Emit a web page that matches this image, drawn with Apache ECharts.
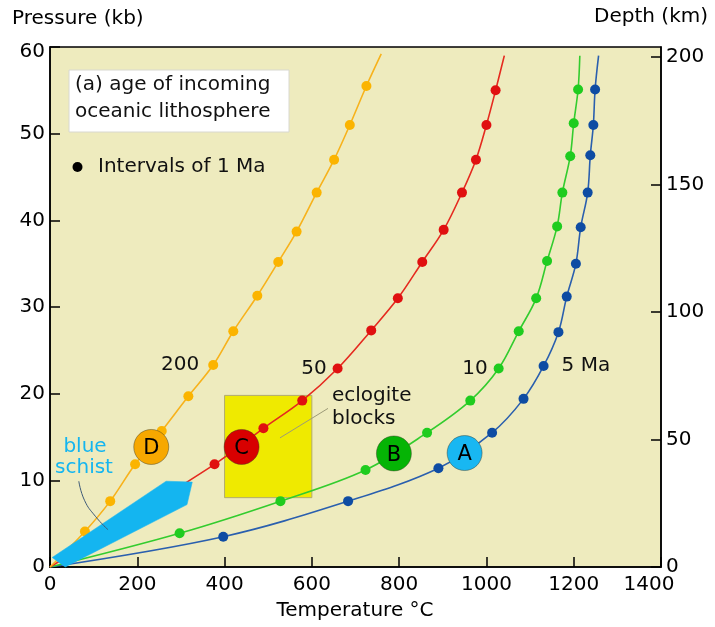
<!DOCTYPE html>
<html>
<head>
<meta charset="utf-8">
<script src="https://cdn.jsdelivr.net/npm/echarts/dist/echarts.min.js"></script>
<style>
  html, body { margin: 0; padding: 0; background: #ffffff; }
  #chart { width: 715px; height: 627px; }
</style>
</head>
<body>
<div id="chart"></div>
<script>
// P-T paths at the top of a subducting slab for different ages of the
// incoming oceanic lithosphere. Dots mark 1 Ma steps along each path.

// Axis ticks
const tempTicks = [0, 200, 400, 600, 800, 1000, 1200, 1400];     // °C
const pressureTicks = [0, 10, 20, 30, 40, 50, 60];               // kb
const depthTicks = [0, 50, 100, 150, 200];                       // km
const depthMax = 204;                                            // km at 60 kb

// 5 Ma lithosphere
const temp5 = [397, 683, 890, 1013, 1085, 1131, 1165, 1184, 1205, 1216, 1232, 1238, 1245, 1249];
const press5 = [3.5, 7.6, 11.4, 15.5, 19.4, 23.2, 27.1, 31.2, 35.0, 39.2, 43.2, 47.5, 51.0, 55.1];
const end5 = [1257, 59.0];

// 10 Ma lithosphere
const temp10 = [297, 528, 723, 864, 963, 1028, 1074, 1114, 1139, 1162, 1174, 1192, 1200, 1210];
const press10 = [3.9, 7.6, 11.2, 15.5, 19.2, 22.9, 27.2, 31.0, 35.3, 39.3, 43.2, 47.4, 51.2, 55.1];
const end10 = [1214, 59.0];

// 50 Ma lithosphere
const temp50 = [377, 489, 578, 659, 736, 797, 853, 902, 944, 976, 1000, 1021];
const press50 = [11.85, 16.0, 19.2, 22.9, 27.3, 31.0, 35.2, 38.9, 43.2, 47.0, 51.0, 55.0];
const end50 = [1041, 59.0];

// 200 Ma lithosphere
const temp200 = [80, 138, 195, 256, 317, 374, 420, 475, 523, 565, 611, 651, 687, 725];
const press200 = [4.1, 7.6, 11.85, 15.7, 19.7, 23.3, 27.2, 31.3, 35.2, 38.7, 43.2, 47.0, 51.0, 55.5];
const end200 = [759, 59.2];

const pathStart = [0, 0];

// Lettered P-T conditions
const regionLabels = ['A', 'B', 'C', 'D'];
const regionTemp = [950, 788, 439, 232];
const regionPress = [13.15, 13.1, 13.85, 13.85];

// Blueschist field outline
const schistTemp = [5, 35, 314, 326, 266];
const schistPress = [1.1, 0, 7.2, 9.8, 9.9];

// Eclogite blocks box
const eclogiteTemp = [400, 600];
const eclogitePress = [8, 19.8];

// Leader lines from the annotations
const schistLeaderTemp = [66, 79, 104, 133];
const schistLeaderPress = [9.9, 7.7, 5.85, 4.3];
const eclogiteLeaderTemp = [527, 637];
const eclogiteLeaderPress = [14.9, 18.3];

const FONT = 'DejaVu Sans';
const chart = echarts.init(document.getElementById('chart'), null, { renderer: 'canvas' });

function pairs(T, P) {
  return T.map((t, i) => [t, P[i]]);
}

function pathSeries(T, P, end, lineColor, dotColor, labelIndex, labelText, labelPos, labelDist) {
  const line = {
    type: 'line',
    data: [pathStart].concat(pairs(T, P), [end]),
    smooth: 0.35,
    showSymbol: false,
    silent: true,
    lineStyle: { color: lineColor, width: 1.6, opacity: 1 },
    z: 3
  };
  const dots = {
    type: 'scatter',
    symbol: 'circle',
    symbolSize: 10,
    silent: true,
    itemStyle: { color: dotColor, opacity: 1 },
    data: pairs(T, P).map((p, i) => i === labelIndex ? {
      value: p,
      label: {
        show: true,
        formatter: labelText,
        position: labelPos,
        distance: labelDist,
        color: '#111',
        fontFamily: FONT,
        fontSize: 20
      }
    } : p),
    z: 4
  };
  return [line, dots];
}

const series = [];

// eclogite box (beneath the paths)
series.push({
  type: 'custom',
  data: [[eclogiteTemp[0], eclogitePress[0], eclogiteTemp[1], eclogitePress[1]]],
  encode: { x: [0, 2], y: [1, 3] },
  renderItem: function (params, api) {
    const a = api.coord([api.value(0), api.value(3)]);
    const b = api.coord([api.value(2), api.value(1)]);
    return {
      type: 'rect',
      shape: { x: a[0], y: a[1], width: b[0] - a[0], height: b[1] - a[1] },
      style: { fill: '#EFEA00', stroke: '#B0AA70', lineWidth: 1 }
    };
  },
  silent: true,
  z: 2
});

series.push(...pathSeries(temp5, press5, end5, '#2A5FAE', '#0E4CA3', 5, '5 Ma', 'right', 13));
series.push(...pathSeries(temp10, press10, end10, '#33CC2E', '#1FCC1F', 5, '10', 'left', 6));
series.push(...pathSeries(temp50, press50, end50, '#E52A1F', '#E01010', 3, '50', 'left', 6));
series.push(...pathSeries(temp200, press200, end200, '#F7B21C', '#FBB400', 5, '200', 'left', 9));

// blueschist field
series.push({
  type: 'custom',
  data: pairs(schistTemp, schistPress),
  renderItem: function (params, api) {
    if (params.dataIndex !== 0) return null;
    const pts = schistTemp.map((t, i) => api.coord([t, schistPress[i]]));
    return {
      type: 'polygon',
      shape: { points: pts },
      style: { fill: '#14B5F0', stroke: '#14B5F0', lineWidth: 0.5 }
    };
  },
  silent: true,
  z: 5
});

// leader lines
series.push({
  type: 'line',
  data: pairs(schistLeaderTemp, schistLeaderPress),
  smooth: 0.5,
  showSymbol: false,
  silent: true,
  lineStyle: { color: '#3F5B78', width: 1 },
  z: 6
});
series.push({
  type: 'line',
  data: pairs(eclogiteLeaderTemp, eclogiteLeaderPress),
  showSymbol: false,
  silent: true,
  lineStyle: { color: '#9C9A78', width: 1 },
  z: 6
});

// lettered circles
const regionFill = ['#18B7F2', '#05B405', '#D80000', '#F7A800'];
series.push({
  type: 'scatter',
  symbol: 'circle',
  symbolSize: 35,
  silent: true,
  data: regionLabels.map((name, i) => ({
    value: [regionTemp[i], regionPress[i]],
    itemStyle: { color: regionFill[i], opacity: 1, borderColor: 'rgba(60,60,40,0.45)', borderWidth: 1 },
    label: {
      show: true,
      position: 'inside',
      formatter: name,
      color: '#000',
      fontFamily: FONT,
      fontSize: 21,
      offset: [0, 2]
    }
  })),
  z: 7
});

const axisFont = { color: '#000', fontFamily: FONT, fontSize: 20 };

chart.setOption({
  animation: false,
  backgroundColor: '#ffffff',
  grid: {
    left: 50, right: 54, top: 47, bottom: 60,
    show: true,
    backgroundColor: '#EEEBBE',
    borderColor: '#000',
    borderWidth: 1.5,
    containLabel: false,
    outerBoundsMode: 'none'
  },
  xAxis: {
    type: 'value',
    min: tempTicks[0],
    max: tempTicks[tempTicks.length - 1],
    interval: tempTicks[1] - tempTicks[0],
    axisLine: { show: true, onZero: false, lineStyle: { color: '#000', width: 1.5 } },
    axisTick: { show: true, inside: true, length: 10, lineStyle: { color: '#000', width: 1.5 } },
    axisLabel: Object.assign({
      margin: 8,
      formatter: v => v === tempTicks[tempTicks.length - 1] ? '{last|' + v + '}' : String(v),
      rich: { last: { fontFamily: FONT, fontSize: 20, color: '#000', padding: [0, 24, 0, 0] } }
    }, axisFont),
    splitLine: { show: false }
  },
  yAxis: [{
    type: 'value',
    position: 'left',
    min: pressureTicks[0],
    max: pressureTicks[pressureTicks.length - 1],
    interval: pressureTicks[1] - pressureTicks[0],
    axisLine: { show: true, onZero: false, lineStyle: { color: '#000', width: 1.5 } },
    axisTick: { show: true, inside: true, length: 10, lineStyle: { color: '#000', width: 1.5 } },
    axisLabel: Object.assign({
      margin: 5,
      formatter: v => v === pressureTicks[pressureTicks.length - 1] ? '{top|' + v + '}' : String(v),
      rich: { top: { fontFamily: FONT, fontSize: 20, color: '#000', padding: [10, 0, 0, 0] } }
    }, axisFont),
    splitLine: { show: false }
  }, {
    type: 'value',
    position: 'right',
    min: depthTicks[0],
    max: depthMax,
    interval: depthTicks[1] - depthTicks[0],
    axisLine: { show: true, onZero: false, lineStyle: { color: '#000', width: 1.5 } },
    axisTick: { show: true, inside: true, length: 10, lineStyle: { color: '#000', width: 1.5 } },
    axisLabel: Object.assign({
      margin: 5,
      showMaxLabel: false,
      formatter: v => depthTicks.includes(v) ? String(v) : ''
    }, axisFont),
    splitLine: { show: false }
  }],
  graphic: [
    { type: 'text', silent: true, style: { x: 12, y: 19, text: 'Pressure (kb)', font: '20px "DejaVu Sans"', fill: '#000', verticalAlign: 'middle' } },
    { type: 'text', silent: true, style: { x: 708, y: 16.5, text: 'Depth (km)', font: '20px "DejaVu Sans"', fill: '#000', align: 'right', verticalAlign: 'middle' } },
    { type: 'text', silent: true, style: { x: 355, y: 611, text: 'Temperature °C', font: '20px "DejaVu Sans"', fill: '#000', align: 'center', verticalAlign: 'middle' } },
    { type: 'rect', silent: true, z: 10, shape: { x: 69, y: 70, width: 220, height: 62 }, style: { fill: '#ffffff', stroke: '#d8d8d0', lineWidth: 1 } },
    { type: 'text', silent: true, z: 11, style: { x: 75, y: 85, text: '(a) age of incoming', font: '20px "DejaVu Sans"', fill: '#111', verticalAlign: 'middle' } },
    { type: 'text', silent: true, z: 11, style: { x: 75, y: 111.5, text: 'oceanic lithosphere', font: '20px "DejaVu Sans"', fill: '#111', verticalAlign: 'middle' } },
    { type: 'circle', silent: true, z: 10, shape: { cx: 77.5, cy: 167, r: 5 }, style: { fill: '#000' } },
    { type: 'text', silent: true, z: 10, style: { x: 98, y: 167, text: 'Intervals of 1 Ma', font: '20px "DejaVu Sans"', fill: '#111', verticalAlign: 'middle' } },
    { type: 'text', silent: true, z: 10, style: { x: 332, y: 396, text: 'eclogite', font: '20px "DejaVu Sans"', fill: '#111', verticalAlign: 'middle' } },
    { type: 'text', silent: true, z: 10, style: { x: 332, y: 419, text: 'blocks', font: '20px "DejaVu Sans"', fill: '#111', verticalAlign: 'middle' } },
    { type: 'text', silent: true, z: 10, style: { x: 85, y: 447, text: 'blue', font: '20px "DejaVu Sans"', fill: '#14B5F0', align: 'center', verticalAlign: 'middle' } },
    { type: 'text', silent: true, z: 10, style: { x: 84, y: 468, text: 'schist', font: '20px "DejaVu Sans"', fill: '#14B5F0', align: 'center', verticalAlign: 'middle' } }
  ],
  series: series
});
</script>
</body>
</html>
